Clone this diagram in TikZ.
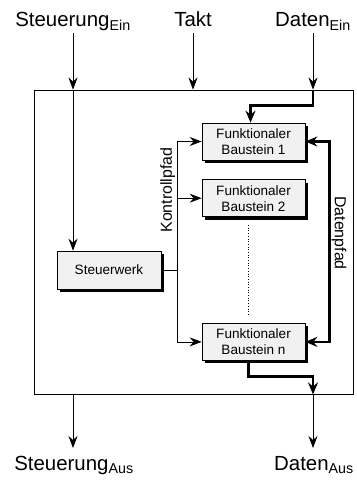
\documentclass[tikz,border=0pt]{standalone}
\usepackage{fontspec}
\setmainfont{Liberation Sans}
\usetikzlibrary{arrows.meta, positioning, shadows}

\begin{document}
\begin{tikzpicture}[
    x=1bp, y=-1bp,
    block/.style={draw, line width=0.7bp, fill=gray!11, minimum width=103bp,
                  minimum height=37bp, align=center, inner sep=1bp,
                  font=\fontsize{13.6}{16}\selectfont,
                  drop shadow={shadow xshift=3bp, shadow yshift=-3bp,
                               fill=black, opacity=1}},
    arr/.style={-{Stealth[length=12bp, width=9bp, inset=4bp]}, line width=0.8bp},
    tarr/.style={-{Stealth[length=12bp, width=10bp, inset=4bp]}, line width=2.6bp,
                 line join=miter},
    lbl/.style={font=\fontsize{20.5}{23}\selectfont, inner sep=1bp,
                text height=15bp, text depth=5bp},
    lblb/.style={lbl, text height=21bp, anchor=north},
    pathlbl/.style={font=\fontsize{16}{18}\selectfont, inner sep=2bp, anchor=south},
]
  \useasboundingbox (0,0) rectangle (356,480);

  % frame and blocks
  \node[draw, line width=0.8bp, minimum width=319bp, minimum height=304bp,
        inner sep=0pt] (frame) at (193.5,242) {};
  \node[block] (fb1) at (253.5,141.5) {Funktionaler\\Baustein 1};
  \node[block, below=19bp of fb1] (fb2) {Funktionaler\\Baustein 2};
  \node[block, below=106bp of fb2] (fbn) {Funktionaler\\Baustein n};
  \node[block, minimum width=104bp, minimum height=38bp] (ctrl) at (109,270) {Steuerwerk};

  % inputs and outputs
  \node[lbl, anchor=base] (sin)  at (73,27)  {Steuerung\textsubscript{Ein}};
  \node[lbl, anchor=base] (takt) at (193,27) {Takt};
  \node[lbl, anchor=base] (din)  at (313,27) {Daten\textsubscript{Ein}};
  \node[lblb] (sout) at (74,448)  {Steuerung\textsubscript{Aus}};
  \node[lblb] (dout) at (314,448) {Daten\textsubscript{Aus}};

  \coordinate[right=16bp of ctrl.east] (kp);
  \coordinate[right=24bp of fb1.east] (dp);

  \draw[arr] (sin.south) -- (frame.north -| sin);
  \draw[arr] (frame.north -| sin) -- (ctrl.north -| sin);
  \draw[arr] (takt.south) -- (frame.north -| takt);
  \draw[arr] (din.south) -- (frame.north -| din);
  \draw[tarr] (frame.north -| din) -- ++(0,16) -| ([xshift=-3bp]fb1.north);

  % Kontrollpfad
  \draw[line width=0.8bp] (ctrl.east) -- (kp);
  \draw[arr] (kp) |- (fb1.west);
  \draw[arr] (kp) |- (fb2.west);
  \draw[arr] (kp) |- (fbn.west);
  \node[pathlbl, rotate=90] at (kp |- 0,190) {Kontrollpfad};

  % Datenpfad
  \draw[tarr, {Stealth[length=12bp, width=10bp, inset=4bp]}-{Stealth[length=12bp, width=10bp, inset=4bp]}]
    (fb1.east) -- (dp) -- (dp |- fbn.east) -- (fbn.east);
  \node[pathlbl, rotate=-90] at (dp |- 0,233) {Datenpfad};

  \draw[dotted, line width=0.7bp] ([xshift=-5bp, yshift=-8bp]fb2.south)
    -- ([xshift=-5bp, yshift=9bp]fbn.north);

  \draw[tarr] ([xshift=-5bp]fbn.south) -- ++(0,16) -| (frame.south -| din);
  \draw[arr] (frame.south -| din) -- (dout.north -| din);
  \draw[arr] (frame.south -| sin) -- (sout.north -| sin);
\end{tikzpicture}
\end{document}
